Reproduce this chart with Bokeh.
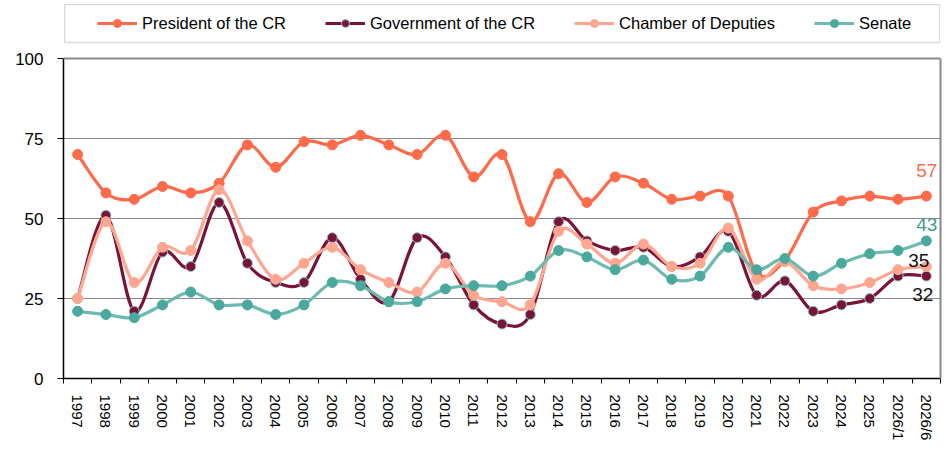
import numpy as np
from bokeh.plotting import figure
from bokeh.models import (Range1d, FixedTicker, Legend, LegendItem, ColumnDataSource,
                          LinearAxis, Span, BoxAnnotation)
from bokeh.embed import file_html
from bokeh.resources import INLINE
from bokeh.core.properties import value

categories = ["1997", "1998", "1999", "2000", "2001", "2002", "2003", "2004", "2005",
              "2006", "2007", "2008", "2009", "2010", "2011", "2012", "2013", "2014",
              "2015", "2016", "2017", "2018", "2019", "2020", "2021", "2022", "2023",
              "2024", "2025", "2026/1", "2026/6"]
president = [70, 58, 56, 60, 58, 61, 73, 66, 74, 73, 76, 73, 70, 76, 63, 70, 49, 64,
             55, 63, 61, 56, 57, 57, 33, 37, 52, 55.5, 57, 56, 57]
government = [25, 51, 21, 39.5, 35, 55, 36, 30, 30, 44, 31, 24, 44, 38, 23, 17, 20, 49,
              43, 40, 41, 35, 38, 46, 26, 30.5, 21, 23, 25, 32, 32]
chamber = [25, 49, 30, 41, 40, 59, 43, 31, 36, 41, 34, 30, 27, 36, 26, 24, 23, 46,
           42, 36, 42, 35, 36, 47, 31, 36.5, 29, 28, 30, 34, 35]
senate = [21, 20, 19, 23, 27, 23, 23, 20, 23, 30, 29, 24, 24, 28, 29, 29, 32, 40,
          38, 34, 37, 31, 32, 41, 34, 37.5, 32, 36, 39, 40, 43]
series_names = ["President of the CR", "Government of the CR", "Chamber of Deputies", "Senate"]
y_ticks = [0, 25, 50, 75, 100]
y_max = 100

FONT = "Liberation Sans"
line_colors = ["#FF6A4A", "#7A1339", "#FFA690", "#6DBAB0"]
fill_colors = ["#FF6A4A", "#7A1339", "#FFA690", "#4AA99D"]
edge_colors = ["#FF6A4A", "#8CCBC4", "#FFA690", "#4AA99D"]

# layout (pixels)
W, H = 945, 463
LEFT, RIGHT, TOP, BOTTOM = 63, 5, 3, 85          # borders around the frame
PLOT_TOP_PX = 58                                  # where value 100 sits
frame_h = H - TOP - BOTTOM
px_per_unit = (H - BOTTOM - PLOT_TOP_PX) / y_max
y_end = frame_h / px_per_unit
LEG_BOX = dict(top_px=4, bottom_px=42)            # legend frame, from top of page

xs = np.arange(len(categories), dtype=float)


def smooth_source(x, y):
    """Bezier segments (Excel-like smoothed line) through the data points."""
    y = np.asarray(y, dtype=float)
    xp = np.concatenate([[x[0]], x, [x[-1]]])
    yp = np.concatenate([[y[0]], y, [y[-1]]])
    n = len(x)
    d = dict(x0=[], y0=[], x1=[], y1=[], cx0=[], cy0=[], cx1=[], cy1=[])
    for i in range(n - 1):
        p0x, p0y = xp[i], yp[i]
        p1x, p1y = xp[i + 1], yp[i + 1]
        p2x, p2y = xp[i + 2], yp[i + 2]
        p3x, p3y = xp[i + 3], yp[i + 3]
        d["x0"].append(p1x); d["y0"].append(p1y)
        d["x1"].append(p2x); d["y1"].append(p2y)
        d["cx0"].append(p1x + (p2x - p0x) / 6.0); d["cy0"].append(p1y + (p2y - p0y) / 6.0)
        d["cx1"].append(p2x - (p3x - p1x) / 6.0); d["cy1"].append(p2y - (p3y - p1y) / 6.0)
    return ColumnDataSource(d)


x_start, x_end = -0.5, len(categories) - 0.5
p = figure(width=W, height=H, output_backend="svg", toolbar_location=None,
           x_range=Range1d(x_start, x_end), y_range=Range1d(0, y_end),
           min_border_left=LEFT, min_border_right=RIGHT, min_border_top=TOP,
           min_border_bottom=BOTTOM)
p.background_fill_color = "white"
p.border_fill_color = "white"
p.outline_line_color = None

# x axis
p.xaxis.ticker = FixedTicker(ticks=list(xs), minor_ticks=list(np.arange(len(categories) + 1) - 0.5))
p.xaxis.major_label_overrides = {i: c for i, c in enumerate(categories)}
p.xaxis.major_label_orientation = "vertical"
p.xaxis.major_tick_line_color = None
p.xaxis.minor_tick_line_color = "black"
p.xaxis.minor_tick_in = 0
p.xaxis.minor_tick_out = 5
p.xaxis.major_label_standoff = 10
p.xaxis.major_label_text_font = FONT
p.xaxis.major_label_text_font_size = "15px"
p.xaxis.major_label_text_color = "black"
p.xaxis.axis_line_color = "black"
p.xaxis.axis_line_width = 1.5

# y axis
p.yaxis.ticker = FixedTicker(ticks=y_ticks)
p.yaxis.bounds = (0, y_max)
p.yaxis.major_tick_in = 0
p.yaxis.major_tick_out = 6
p.yaxis.minor_tick_line_color = None
p.yaxis.major_tick_line_color = "black"
p.yaxis.major_label_standoff = 14
p.yaxis.major_label_text_font = FONT
p.yaxis.major_label_text_font_size = "17px"
p.yaxis.major_label_text_color = "black"
p.yaxis.axis_line_color = "black"
p.yaxis.axis_line_width = 1.5

# right border of the plot area (grey)
rax = LinearAxis(ticker=FixedTicker(ticks=[]), bounds=(0, y_max),
                 axis_line_color="#888888", axis_line_width=2,
                 major_tick_line_color=None, minor_tick_line_color=None,
                 major_tick_out=0, major_tick_in=0, major_label_standoff=0,
                 major_label_text_font_size="0px")
p.add_layout(rax, "right")
# top border of the plot area (grey)
p.add_layout(Span(location=y_max, dimension="width", line_color="#888888", line_width=2))

p.xgrid.grid_line_color = None
p.ygrid.ticker = FixedTicker(ticks=y_ticks[1:-1])
p.ygrid.grid_line_color = "#888888"
p.ygrid.grid_line_width = 1

items = []
for name, vals, lc, fc, ec in zip(series_names, [president, government, chamber, senate],
                                  line_colors, fill_colors, edge_colors):
    r_line = p.bezier(x0="x0", y0="y0", x1="x1", y1="y1", cx0="cx0", cy0="cy0",
                      cx1="cx1", cy1="cy1", source=smooth_source(xs, vals),
                      line_color=lc, line_width=3.2)
    r_mark = p.scatter(x=xs, y=vals, size=10, marker="circle", fill_color=fc,
                       line_color=ec, line_width=1)
    items.append(LegendItem(label=name, renderers=[r_line, r_mark]))

# end labels
lab_vals = [president[-1], senate[-1], chamber[-1], government[-1]]
lab_src = ColumnDataSource(dict(
    x=[xs[-1]] * 4,
    y=lab_vals,
    text=[f"{v:g}" for v in lab_vals],
    color=["#FF6A4A", "#3F9A8F", "#111111", "#111111"],
    dx=[11, 11, 3, 7],
    dy=[-26, -16, -6, 18],
))
p.text(x="x", y="y", text="text", x_offset="dx", y_offset="dy", text_color="color",
       text_align="right", text_baseline="middle", text_font=value(FONT),
       text_font_size="19px", source=lab_src)

# legend frame
frame_bottom_px = H - BOTTOM
p.add_layout(BoxAnnotation(left=x_start + 0.04, right=x_end - 0.03,
                           top=(frame_bottom_px - LEG_BOX["top_px"]) / px_per_unit,
                           bottom=(frame_bottom_px - LEG_BOX["bottom_px"]) / px_per_unit,
                           fill_color="white", fill_alpha=1,
                           line_color="#888888", line_width=1.5))

leg_center_px = (LEG_BOX["top_px"] + LEG_BOX["bottom_px"]) / 2
legend = Legend(items=items, orientation="horizontal",
                location=(34, frame_bottom_px - leg_center_px - 10), margin=0,
                padding=0, spacing=39, glyph_width=40, glyph_height=20, label_height=20,
                label_standoff=5,
                label_text_font=FONT, label_text_font_size="16.5px",
                label_text_color="black",
                border_line_color=None, background_fill_alpha=0)
p.add_layout(legend, "center")

open("out.html", "w").write(file_html(p, INLINE))
